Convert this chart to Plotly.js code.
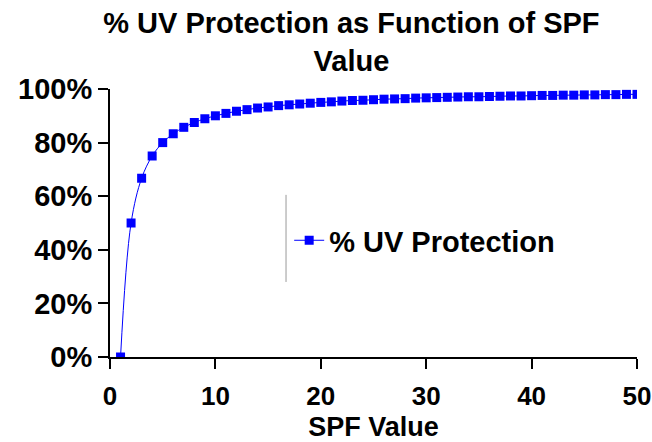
<!DOCTYPE html>
<html>
<head>
<meta charset="utf-8">
<script src="https://cdn.plot.ly/plotly-3.0.1.min.js"></script>
<style>html,body{margin:0;padding:0;background:#fff;}#chart{width:652px;height:442px;}</style>
</head>
<body>
<div id="chart"></div>
<script>
// SPF values (x) and % UV protection (y, fraction)
const spfValues = [1,2,3,4,5,6,7,8,9,10,11,12,13,14,15,16,17,18,19,20,21,22,23,24,25,26,27,28,29,30,31,32,33,34,35,36,37,38,39,40,41,42,43,44,45,46,47,48,49,50];
const uvProtection = [0,0.50,0.667,0.75,0.80,0.833,0.857,0.875,0.889,0.90,0.909,0.917,0.923,0.929,0.933,0.938,0.941,0.944,0.947,0.95,0.952,0.955,0.957,0.958,0.96,0.962,0.963,0.964,0.966,0.967,0.968,0.969,0.97,0.971,0.971,0.972,0.973,0.974,0.974,0.975,0.976,0.976,0.977,0.977,0.978,0.978,0.979,0.979,0.98,0.98];
const seriesName = "% UV Protection";
const chartTitle = "% UV Protection as Function of SPF<br>Value";
const xTitle = "SPF Value";
const xTicks = [0,10,20,30,40,50];
const yTicks = [0,0.2,0.4,0.6,0.8,1.0];

const font = 'Liberation Sans, Arial, sans-serif';

const trace = {
  x: spfValues, y: uvProtection, name: seriesName,
  type: 'scatter', mode: 'lines+markers',
  line: {color: '#0000FF', width: 1, shape: 'spline', smoothing: 1},
  marker: {symbol: 'square', size: 9, color: '#0000FF'}
};

const layout = {
  width: 652, height: 442,
  margin: {l: 110, r: 15, t: 89, b: 85},
  paper_bgcolor: '#fff', plot_bgcolor: '#fff',
  font: {family: font, color: '#000'},
  title: {text: '<b>' + chartTitle.replace('<br>', '</b><br><b>') + '</b>', font: {family: font, size: 29, color: '#000'},
          x: 0.539, xanchor: 'center', xref: 'container', y: 0.925, yanchor: 'top', yref: 'container'},
  xaxis: {range: [0, 50], tickvals: xTicks, ticktext: xTicks.map(v => '<b>' + v + '</b>'),
          showgrid: false, zeroline: false, showline: true, linecolor: '#000', linewidth: 2,
          ticks: 'outside', ticklen: 10, tickwidth: 2, tickcolor: '#000', ticklabelstandoff: 5,
          ticklabeloverflow: 'allow',
          tickfont: {family: font, size: 26, color: '#000'},
          title: {text: '<b>' + xTitle + '</b>', font: {family: font, size: 27, color: '#000'}, standoff: 11}},
  yaxis: {range: [0, 1], tickvals: yTicks, ticktext: yTicks.map(v => '<b>' + Math.round(v*100) + '%</b>'),
          showgrid: false, zeroline: false, showline: true, linecolor: '#000', linewidth: 2,
          ticks: 'outside', ticklen: 10, tickwidth: 2, tickcolor: '#000',
          tickfont: {family: font, size: 29, color: '#000'}},
  showlegend: true,
  legend: {x: 0.34, y: 0.435, xanchor: 'left', yanchor: 'middle', bgcolor: 'rgba(0,0,0,0)',
           font: {family: font, size: 29, color: '#000', weight: 'bold'}},
  shapes: [{type: 'line', xref: 'paper', yref: 'paper', x0: 0.334, x1: 0.334, y0: 0.28, y1: 0.605,
            line: {color: '#999', width: 1}}]
};

Plotly.newPlot('chart', [trace], layout, {displayModeBar: false, staticPlot: true});
</script>
</body>
</html>
